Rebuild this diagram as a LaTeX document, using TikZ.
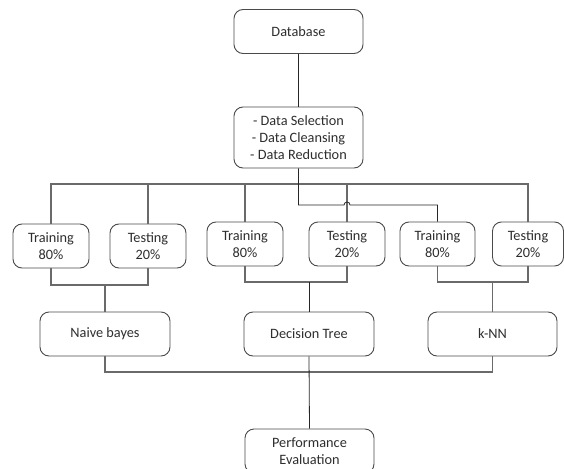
\documentclass[tikz,border=0pt]{standalone}
\usepackage{fontspec}
\setmainfont{Carlito}
\usetikzlibrary{calc}
\definecolor{ink}{HTML}{2E2E2E}
\definecolor{edge}{HTML}{4A4A4A}
\definecolor{railc}{HTML}{6A6A6A}
\tikzset{
  box/.style={draw=edge, line width=0.9pt, rounded corners=9pt, fill=white,
    text=ink, font=\fontsize{14.3}{17}\selectfont, align=center,
    inner sep=0pt, minimum height=44pt},
  wide/.style={box, minimum width=129pt},
  split/.style={box, minimum width=76pt},
  link/.style={draw=black!85, line width=0.8pt},
  rail/.style={draw=railc, line width=1.1pt},
}
\begin{document}
\begin{tikzpicture}[x=1pt, y=-1pt]
\useasboundingbox (0,0) rectangle (564,468);

% pipeline head
\node[wide] (db) at (298.5,31.5) {Database};
\node[wide, minimum height=61pt] (prep) at (298.5,137.5)
  {- Data Selection\\- Data Cleansing\\- Data Reduction};

% train / test splits
\node[split] (tr1) at (51,246) {Training\\80\%};
\node[split] (te1) at (148,246) {Testing\\20\%};
\node[split] (tr2) at (245,244) {Training\\80\%};
\node[split] (te2) at (347,244) {Testing\\20\%};
\node[split, minimum width=75pt] (tr3) at (437.5,244) {Training\\80\%};
\node[split, minimum width=71pt] (te3) at (528,244) {Testing\\20\%};

% classifiers
\node[wide, minimum width=130pt] (nb) at (105,334) {Naive bayes};
\node[wide, minimum width=130pt] (dt) at (309,334) {Decision Tree};
\node[wide] (knn) at (492.5,334) {k-NN};

% evaluation
\node[wide, minimum height=44pt] (pe) at (309.5,451) {Performance\\Evaluation};

% rail levels
\coordinate (top) at (0,184);
\coordinate (hop) at (0,205);
\coordinate (low1) at (0,285);
\coordinate (low2) at (0,282);
\coordinate (bot) at (0,372);

% database to preprocessing
\draw[link] (db.south) -- (prep.north);

% distribution rail to the split boxes
\draw[rail] (tr1.north) -- (tr1.north |- top) -- (te3.north |- top) -- (te3.north);
\draw[rail] (te1.north) -- (te1.north |- top);
\draw[rail] (tr2.north) -- (tr2.north |- top);
\draw[rail] (te2.north) -- (te2.north |- top);
% line to the third training box, hopping over the crossing rail
\draw[link] (prep.south) -- (prep.south |- hop)
  -- ($(te2.north |- hop)+(-3,0)$) arc[start angle=180, end angle=0, radius=3pt]
  -- (tr3.north |- hop) -- (tr3.north);

% pairs joined into each classifier
\draw[rail] (tr1.south) -- (tr1.south |- low1) -- (te1.south |- low1) -- (te1.south);
\draw[rail] (nb.north) -- (nb.north |- low1);
\draw[rail] (tr2.south) -- (tr2.south |- low2) -- (te2.south |- low2) -- (te2.south);
\draw[link] (dt.north) -- (dt.north |- low2);
\draw[rail] (tr3.south) -- (tr3.south |- low2) -- (te3.south |- low2) -- (te3.south);
\draw[rail] (knn.north) -- (knn.north |- low2);

% classifiers into evaluation
\draw[rail] (nb.south) -- (nb.south |- bot) -- (knn.south |- bot) -- (knn.south);
\draw[link] (dt.south) -- (pe.north);
\end{tikzpicture}
\end{document}
